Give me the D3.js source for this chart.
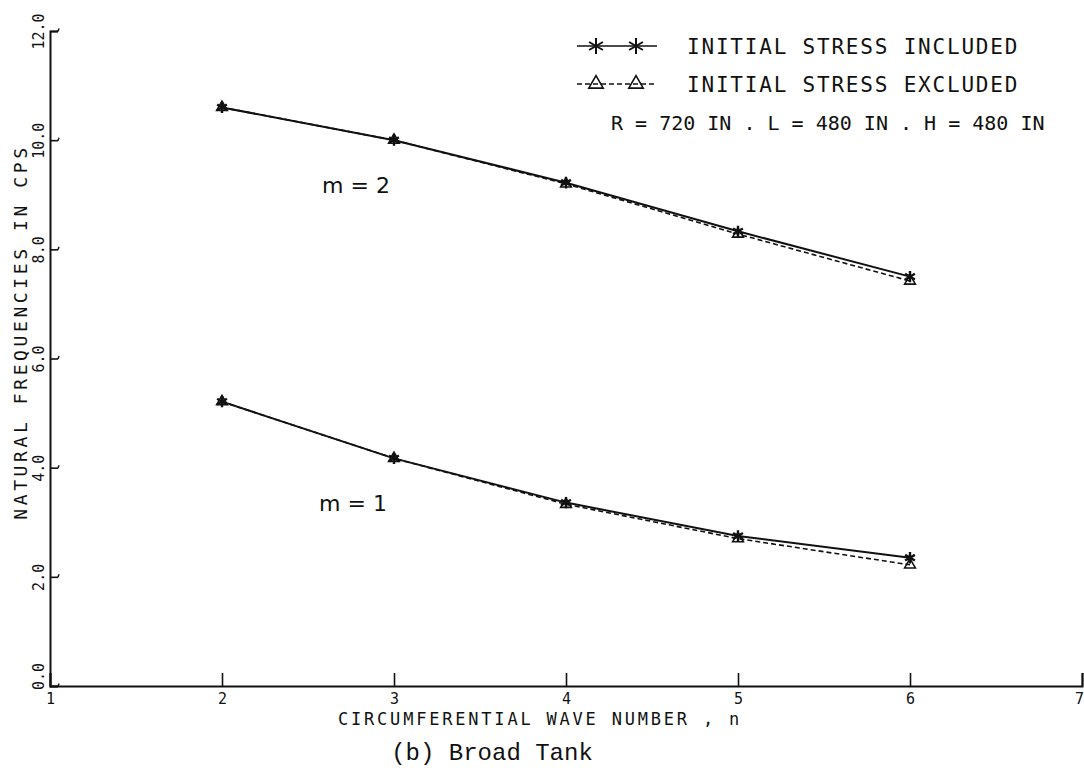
<!DOCTYPE html>
<html>
<head>
<meta charset="utf-8">
<script src="https://cdn.jsdelivr.net/npm/d3@7"></script>
<style>
  body { margin: 0; background: #fff; }
  text { font-family: "DejaVu Sans Mono", monospace; fill: #111; }
</style>
</head>
<body>
<div id="chart-area"></div>
<script>
// DATA
var waveNumbers = [2, 3, 4, 5, 6];
var m1Included = [5.21, 4.17, 3.36, 2.75, 2.35];
var m1Excluded = [5.21, 4.17, 3.33, 2.70, 2.22];
var m2Included = [10.6, 10.0, 9.22, 8.33, 7.50];
var m2Excluded = [10.6, 10.0, 9.20, 8.28, 7.42];
var xTicks = [1, 2, 3, 4, 5, 6, 7];
var yTicks = [0, 2, 4, 6, 8, 10, 12];

var width = 1084;
var height = 777;

var svg = d3.select("#chart-area")
    .append("svg")
    .attr("width", width)
    .attr("height", height);

// SCALES
var x = d3.scaleLinear()
    .domain([1, 7])
    .range([50, 1082]);

var y = d3.scaleLinear()
    .domain([0, 12])
    .range([686, 31]);

// AXES
var bottomAxis = d3.axisBottom(x)
    .tickValues(xTicks)
    .tickSize(-13)
    .tickPadding(7)
    .tickFormat(d3.format("d"));

var leftAxis = d3.axisLeft(y)
    .tickValues(yTicks)
    .tickSize(-8)
    .tickPadding(8)
    .tickFormat(d3.format(".1f"));

var gx = svg.append("g")
    .attr("class", "bottom axis")
    .attr("transform", "translate(0," + y(0) + ")")
    .call(bottomAxis);

var gy = svg.append("g")
    .attr("class", "left axis")
    .attr("transform", "translate(" + x(1) + ",0)")
    .call(leftAxis);

svg.selectAll(".axis .domain")
    .attr("stroke", "#111")
    .attr("stroke-width", 2);
svg.selectAll(".axis .tick line")
    .attr("stroke", "#111")
    .attr("stroke-width", 1.6);

// last label sits at the page edge, pull it in a little
gx.selectAll(".tick text")
    .style("font-size", "15px")
    .attr("dy", "0.71em")
    .attr("x", (d) => d === 7 ? -3 : 0);

// y tick labels rotated like the plotter output
gy.selectAll(".tick text")
    .style("font-size", "15px")
    .attr("text-anchor", "middle")
    .attr("dy", "0.35em")
    .attr("x", 0)
    .attr("y", 0)
    .attr("transform", (d) => "translate(-11," + (d === 0 ? -10 : 0) + ") rotate(-90)");

// small hooks at the end of the y ticks
gy.selectAll(".tick")
    .append("path")
    .attr("d", "M8,0 L9,-3")
    .attr("stroke", "#111")
    .attr("stroke-width", 1.4)
    .attr("fill", "none");

// axis titles
svg.append("text")
    .attr("x", 540)
    .attr("y", 725)
    .style("font-size", "17px")
    .attr("text-anchor", "middle")
    .attr("letter-spacing", "2.8px")
    .text("CIRCUMFERENTIAL WAVE NUMBER , n");

svg.append("text")
    .attr("transform", "translate(27,332) rotate(-90)")
    .style("font-size", "18px")
    .attr("text-anchor", "middle")
    .attr("letter-spacing", "3.6px")
    .text("NATURAL FREQUENCIES IN CPS");

svg.append("text")
    .attr("x", 492)
    .attr("y", 760)
    .style("font-size", "24px")
    .style("font-family", "Liberation Mono")
    .attr("text-anchor", "middle")
    .text("(b) Broad Tank");

// LINES
var series = [
    { values: m2Included, dashed: false },
    { values: m2Excluded, dashed: true },
    { values: m1Included, dashed: false },
    { values: m1Excluded, dashed: true }
];

var line = d3.line()
    .x((d, i) => x(waveNumbers[i]))
    .y((d) => y(d));

svg.selectAll("path.series")
    .data(series)
    .enter()
    .append("path")
    .attr("class", "series")
    .attr("d", (d) => line(d.values))
    .attr("fill", "none")
    .attr("stroke", "#111")
    .attr("stroke-width", (d) => d.dashed ? 1.6 : 2)
    .attr("stroke-dasharray", (d) => d.dashed ? "5,3" : null);

var triangle = d3.symbol().type(d3.symbolTriangle).size(50);
var star = d3.symbol().type(d3.symbolAsterisk).size(90);

series.forEach(function (s) {
    svg.selectAll(null)
        .data(s.values)
        .enter()
        .append("path")
        .attr("transform", (d, i) => "translate(" + x(waveNumbers[i]) + "," + y(d) + ")")
        .attr("d", s.dashed ? triangle() : star())
        .attr("fill", s.dashed ? "none" : "#111")
        .attr("stroke", "#111")
        .attr("stroke-width", s.dashed ? 1.6 : 2.4);
});

// curve labels
svg.append("text")
    .attr("x", 356)
    .attr("y", 193)
    .style("font-size", "22px")
    .style("font-family", "DejaVu Sans")
    .attr("text-anchor", "middle")
    .text("m = 2");

svg.append("text")
    .attr("x", 353)
    .attr("y", 511)
    .style("font-size", "22px")
    .style("font-family", "DejaVu Sans")
    .attr("text-anchor", "middle")
    .text("m = 1");

// LEGEND
var legend = svg.append("g").attr("class", "legend");
var legendRows = [
    { label: "INITIAL STRESS INCLUDED", dashed: false, y: 46 },
    { label: "INITIAL STRESS EXCLUDED", dashed: true, y: 84 }
];

legendRows.forEach(function (r) {
    legend.append("line")
        .attr("x1", 577).attr("x2", 657)
        .attr("y1", r.y).attr("y2", r.y)
        .attr("stroke", "#111")
        .attr("stroke-width", 1.6)
        .attr("stroke-dasharray", r.dashed ? "5,3" : null);
    [596, 636].forEach(function (cx) {
        var sym = r.dashed ? d3.symbol().type(d3.symbolTriangle).size(90) : d3.symbol().type(d3.symbolAsterisk).size(180);
        legend.append("path")
            .attr("transform", "translate(" + cx + "," + r.y + ")")
            .attr("d", sym())
            .attr("fill", "none")
            .attr("stroke", "#111")
            .attr("stroke-width", r.dashed ? 1.6 : 2);
    });
    legend.append("text")
        .attr("x", 687)
        .attr("y", r.y + 8)
        .style("font-size", "21px")
        .attr("letter-spacing", "1.8px")
        .text(r.label);
});

legend.append("text")
    .attr("x", 611)
    .attr("y", 130)
    .style("font-size", "20px")
    .text("R = 720 IN . L = 480 IN . H = 480 IN");
</script>
</body>
</html>
